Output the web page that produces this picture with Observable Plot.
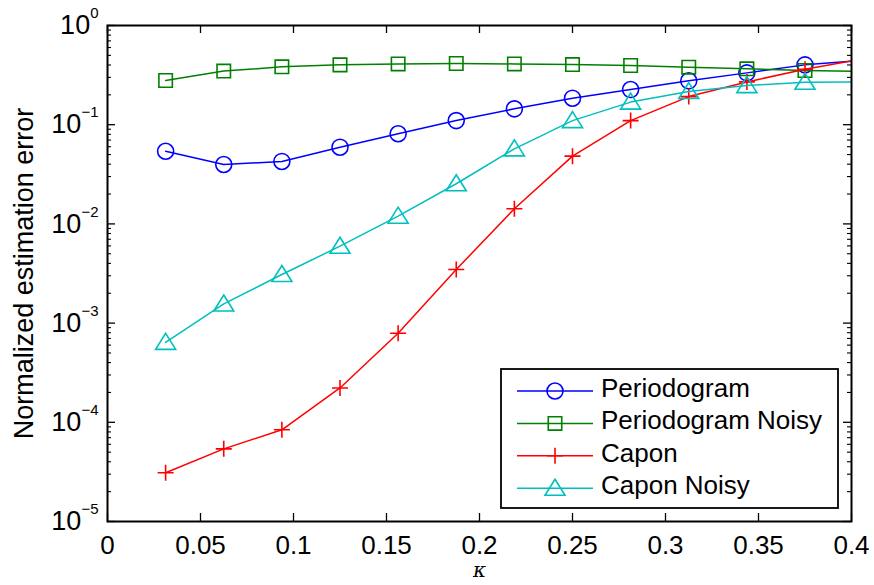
<!DOCTYPE html>
<html><head><meta charset="utf-8">
<script src="https://cdn.jsdelivr.net/npm/d3@7"></script>
<script src="https://cdn.jsdelivr.net/npm/@observablehq/plot@0.6"></script>
<style>
html,body{margin:0;padding:0;background:#fff;}
#wrap{position:relative;width:874px;height:585px;font-family:"Liberation Sans",Arial,Helvetica,sans-serif;}
#legend{position:absolute;left:0;top:0;pointer-events:none;}
</style></head><body><div id="wrap"></div>
<script>
// ---- data ----
const kappa = [0.03125, 0.0625, 0.09375, 0.125, 0.15625, 0.1875, 0.21875, 0.25, 0.28125, 0.3125, 0.34375, 0.375, 0.40625];
const periodogram      = [0.054, 0.0397, 0.0426, 0.0593, 0.081, 0.110, 0.1445, 0.185, 0.226, 0.277, 0.333, 0.401, 0.446];
const periodogramNoisy = [0.279, 0.347, 0.383, 0.401, 0.410, 0.414, 0.410, 0.404, 0.395, 0.380, 0.366, 0.352, 0.345];
const capon            = [3.1e-5, 5.4e-5, 8.4e-5, 2.22e-4, 7.9e-4, 3.47e-3, 0.0142, 0.0482, 0.110, 0.192, 0.270, 0.362, 0.462];
const caponNoisy       = [6.4e-4, 1.56e-3, 3.09e-3, 5.96e-3, 0.01197, 0.0254, 0.0571, 0.110, 0.169, 0.216, 0.248, 0.268, 0.270];
const seriesNames  = ["Periodogram", "Periodogram Noisy", "Capon", "Capon Noisy"];
const seriesValues = [periodogram, periodogramNoisy, capon, caponNoisy];
const seriesColors = ["#0000ff", "#008000", "#ff0000", "#00bfbf"];
const xTicks = [0, 0.05, 0.1, 0.15, 0.2, 0.25, 0.3, 0.35, 0.4];
const yTicks = [1e-5, 1e-4, 1e-3, 1e-2, 1e-1, 1];
const yMinorTicks = [];
for (const e of [-5, -4, -3, -2, -1]) for (let k = 2; k <= 9; k++) yMinorTicks.push(k * Math.pow(10, e));

// ---- layout ----
const W = 874, H = 585, mL = 107, mR = 23, mT = 25, mB = 64;
const pw = W - mL - mR, ph = H - mT - mB;
const FONT = '"Liberation Sans", Arial, Helvetica, sans-serif';

// marker shapes (MATLAB-like)
function shape(kind) {
  return {draw(ctx, size) {
    const s = Math.sqrt(size / Math.PI);
    if (kind === "circle") { ctx.moveTo(s, 0); ctx.arc(0, 0, s, 0, 2 * Math.PI); }
    else if (kind === "square") { const h = 0.84 * s; ctx.moveTo(-h, -h); ctx.lineTo(h, -h); ctx.lineTo(h, h); ctx.lineTo(-h, h); ctx.closePath(); }
    else if (kind === "plus") { ctx.moveTo(-s, 0); ctx.lineTo(s, 0); ctx.moveTo(0, -s); ctx.lineTo(0, s); }
    else { ctx.moveTo(0, -1.12 * s); ctx.lineTo(1.25 * s, 0.88 * s); ctx.lineTo(-1.25 * s, 0.88 * s); ctx.closePath(); }
  }};
}
const seriesShapes = [shape("circle"), shape("square"), shape("plus"), shape("triangle")];

const tables = seriesNames.map((name, i) => kappa.map((k, j) => ({kappa: k, value: seriesValues[i][j], series: name})));

const marks = [];
// ticks (inward, both sides)
marks.push(Plot.tickY(yTicks, {y: d => d, insetRight: pw - 8, stroke: "black", strokeWidth: 1.3}));
marks.push(Plot.tickY(yTicks, {y: d => d, insetLeft: pw - 8, stroke: "black", strokeWidth: 1.3}));
marks.push(Plot.tickY(yMinorTicks, {y: d => d, insetRight: pw - 4, stroke: "black", strokeWidth: 1.1}));
marks.push(Plot.tickY(yMinorTicks, {y: d => d, insetLeft: pw - 4, stroke: "black", strokeWidth: 1.1}));
marks.push(Plot.tickX(xTicks, {x: d => d, insetTop: ph - 8, stroke: "black", strokeWidth: 1.3}));
marks.push(Plot.tickX(xTicks, {x: d => d, insetBottom: ph - 8, stroke: "black", strokeWidth: 1.3}));

tables.forEach((t, i) => {
  marks.push(Plot.line(t, {x: "kappa", y: "value", stroke: seriesColors[i], strokeWidth: 1.5, clip: true}));
  marks.push(Plot.dot(t, {x: "kappa", y: "value", symbol: seriesShapes[i], r: 8, stroke: seriesColors[i], strokeWidth: 1.6, fill: "none", clip: true}));
});

marks.push(Plot.axisX(xTicks, {tickSize: 0, tickPadding: 14, fontSize: 26, label: null, tickFormat: d => String(d)}));
marks.push(Plot.axisY(yTicks, {tickSize: 0, tickPadding: 9, fontSize: 27, label: null, tickFormat: d => "10^" + Math.round(Math.log10(d))}));
marks.push(Plot.text(["Normalized estimation error"], {text: d => d, frameAnchor: "left", textAnchor: "middle", lineAnchor: "middle", rotate: -90, dx: -83, fontSize: 27, fill: "black"}));
marks.push(Plot.text(["κ"], {text: d => d, frameAnchor: "bottom", textAnchor: "middle", lineAnchor: "middle", dy: 49, fontSize: 20, fontStyle: "italic", fontFamily: "DejaVu Serif", fill: "black"}));
marks.push(Plot.frame({stroke: "black", strokeWidth: 2}));

const plot = Plot.plot({
  width: W, height: H,
  marginLeft: mL, marginRight: mR, marginTop: mT, marginBottom: mB,
  style: {fontFamily: FONT, color: "black", background: "white", overflow: "visible"},
  x: {domain: [0, 0.4]},
  y: {type: "log", domain: [1e-5, 1]},
  marks
});

// superscript exponents on y tick labels
plot.querySelectorAll('g[aria-label="y-axis tick label"] text').forEach(t => {
  const parts = t.textContent.split("^");
  t.textContent = "";
  const ns = "http://www.w3.org/2000/svg";
  const b = document.createElementNS(ns, "tspan"); b.textContent = parts[0]; t.appendChild(b);
  const s = document.createElementNS(ns, "tspan");
  s.textContent = parts[1].replace("-", "\u2212");
  s.setAttribute("dy", "-16"); s.setAttribute("font-size", "15");
  t.appendChild(s);
});

const wrap = document.getElementById("wrap");
wrap.appendChild(plot);

// ---- legend overlay ----
const lg = d3.select(wrap).append("svg").attr("id", "legend").attr("width", W).attr("height", H);
const box = {x: 501, y: 369, w: 337, h: 139};
lg.append("rect").attr("x", box.x).attr("y", box.y).attr("width", box.w).attr("height", box.h)
  .attr("fill", "white").attr("stroke", "black").attr("stroke-width", 1.8);
seriesNames.forEach((name, i) => {
  const cy = box.y + 22 + i * 32.4;
  const g = lg.append("g");
  g.append("line").attr("x1", box.x + 16).attr("x2", box.x + 92).attr("y1", cy).attr("y2", cy)
    .attr("stroke", seriesColors[i]).attr("stroke-width", 1.5);
  g.append("path").attr("d", d3.symbol().type(seriesShapes[i]).size(Math.PI * 64)())
    .attr("transform", `translate(${box.x + 54},${cy})`)
    .attr("fill", "none").attr("stroke", seriesColors[i]).attr("stroke-width", 1.6);
  g.append("text").attr("x", box.x + 100).attr("y", cy + 6).attr("font-size", 26)
    .attr("font-family", FONT).attr("fill", "black").text(name);
});
</script></body></html>
